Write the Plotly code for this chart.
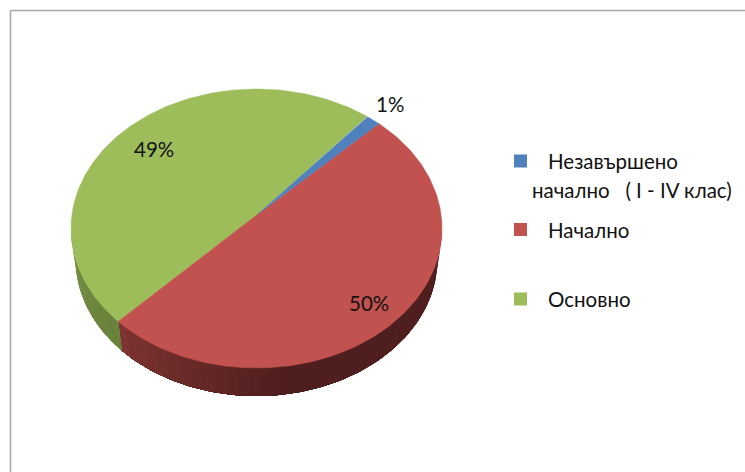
import cmath
import math
import plotly.graph_objects as go

categories = ["Незавършено начално ( I - IV клас)", "Начално", "Основно"]
values = [1.4, 49.6, 49.0]
slice_colors = ["#4f81bd", "#c2524f", "#9dbd5b"]
start_angle = 40.3
legend_lines = [["Незавършено", "начално\u00a0\u00a0\u00a0( I - IV клас)"], ["Начално"], ["Основно"]]

W, H = 745, 472
CX, CY, RX, RY = 256.5, 228.5, 185.5, 139.5
BCY, BRX, BRY = 259.0, 181.0, 137.0
PX, PY = 258.0, 214.0
FONT = "Lato"
TEXT = "#111111"

py = (CY - PY) / RY
a = 1j * (1 - math.sqrt(1 - py * py)) / py


def view_angle(theta):
    """True clockwise-from-top angle to the angle seen on the tilted disc."""
    z = cmath.exp(1j * math.radians(90 - theta))
    w = (z + a) / (1 + a.conjugate() * z)
    return 90 - math.degrees(cmath.phase(w))


def top_pt(phi):
    r = math.radians(phi)
    return CX + RX * math.sin(r), CY - RY * math.cos(r)


def bot_pt(phi):
    r = math.radians(phi)
    return CX + BRX * math.sin(r), BCY - BRY * math.cos(r)


def lerp(c1, c2, t):
    return "rgb(%d,%d,%d)" % tuple(round(p + (q - p) * t) for p, q in zip(c1, c2))


total = sum(values)
edges = [start_angle]
for v in values:
    edges.append(edges[-1] + v / total * 360)

fig = go.Figure()

phi_red_green = view_angle(edges[2]) % 360


def add_wall(p0, p1, color):
    n = max(4, int(abs(p1 - p0)))
    phis = [p0 + (p1 - p0) * i / n for i in range(n + 1)]
    top = [top_pt(p) for p in phis]
    bot = [bot_pt(p) for p in reversed(phis)]
    pts = top + bot + [top[0]]
    fig.add_trace(go.Scatter(x=[p[0] for p in pts], y=[p[1] for p in pts], mode="lines",
                             fill="toself", fillcolor=color, line=dict(width=0),
                             hoverinfo="skip", showlegend=False))


# red side wall: each band is painted over the remaining span, so no seams show
steps = 36
span0, span1 = 90.0, phi_red_green
for i in range(steps):
    p0 = span0 + (span1 - span0) * i / steps
    t = max(0.0, (i / steps - 0.58) / 0.42)
    add_wall(p0, span1, lerp((78, 31, 30), (128, 52, 50), t))

# green side wall
steps = 12
for i in range(steps):
    p1 = phi_red_green + (270 - phi_red_green) * (steps - i) / steps
    add_wall(phi_red_green, p1, lerp((118, 146, 68), (103, 128, 58), i / steps))

# top faces, largest first so the thin slice stays on top
for idx in [2, 1, 0]:
    p0 = view_angle(edges[idx])
    p1 = view_angle(edges[idx + 1])
    while p1 < p0:
        p1 += 360
    n = 160
    arc = [top_pt(p0 + (p1 - p0) * i / n) for i in range(n + 1)]
    pts = [(PX, PY)] + arc + [(PX, PY)]
    fig.add_trace(go.Scatter(x=[p[0] for p in pts], y=[p[1] for p in pts], mode="lines",
                             fill="toself", fillcolor=slice_colors[idx],
                             line=dict(color=slice_colors[idx], width=0.5),
                             name=categories[idx], text=categories[idx], hoverinfo="text",
                             showlegend=False))

# legend keys
key_y = [161, 229.5, 299]
fig.add_trace(go.Scatter(x=[520.5] * 3, y=key_y, mode="markers",
                         marker=dict(symbol="square", size=13, color=slice_colors, line=dict(width=0)),
                         hoverinfo="skip", showlegend=False))

annotations = []


def label(x, y, text, anchor="left"):
    annotations.append(dict(x=x, y=y, xref="x", yref="y", text=text, showarrow=False,
                            xanchor=anchor, yanchor="middle", align=anchor, borderpad=0,
                            font=dict(family=FONT, size=20.5, color=TEXT)))


label(547, 161, legend_lines[0][0])
label(531, 190, legend_lines[0][1])
label(547, 230, legend_lines[1][0])
label(547, 299, legend_lines[2][0])

pct_pos = [(390, 104), (369, 303), (154, 149)]
for v, (x, y) in zip(values, pct_pos):
    label(x, y, f"{v / total * 100:.0f}%", anchor="center")

fig.update_layout(
    width=W, height=H, margin=dict(l=0, r=0, t=0, b=0),
    paper_bgcolor="white", plot_bgcolor="white", showlegend=False,
    xaxis=dict(range=[0, W], visible=False, fixedrange=True),
    yaxis=dict(range=[H, 0], visible=False, fixedrange=True),
    annotations=annotations,
    shapes=[dict(type="line", x0=10.5, x1=10.5, y0=10.5, y1=H, line=dict(color="#a6a6a6", width=1.5)),
            dict(type="line", x0=10.5, x1=W, y0=10.5, y1=10.5, line=dict(color="#a6a6a6", width=1.5))],
)

fig.write_html("out.html", config={"displayModeBar": False},
               post_script="document.body.style.margin='0';document.documentElement.style.overflow='hidden';")
